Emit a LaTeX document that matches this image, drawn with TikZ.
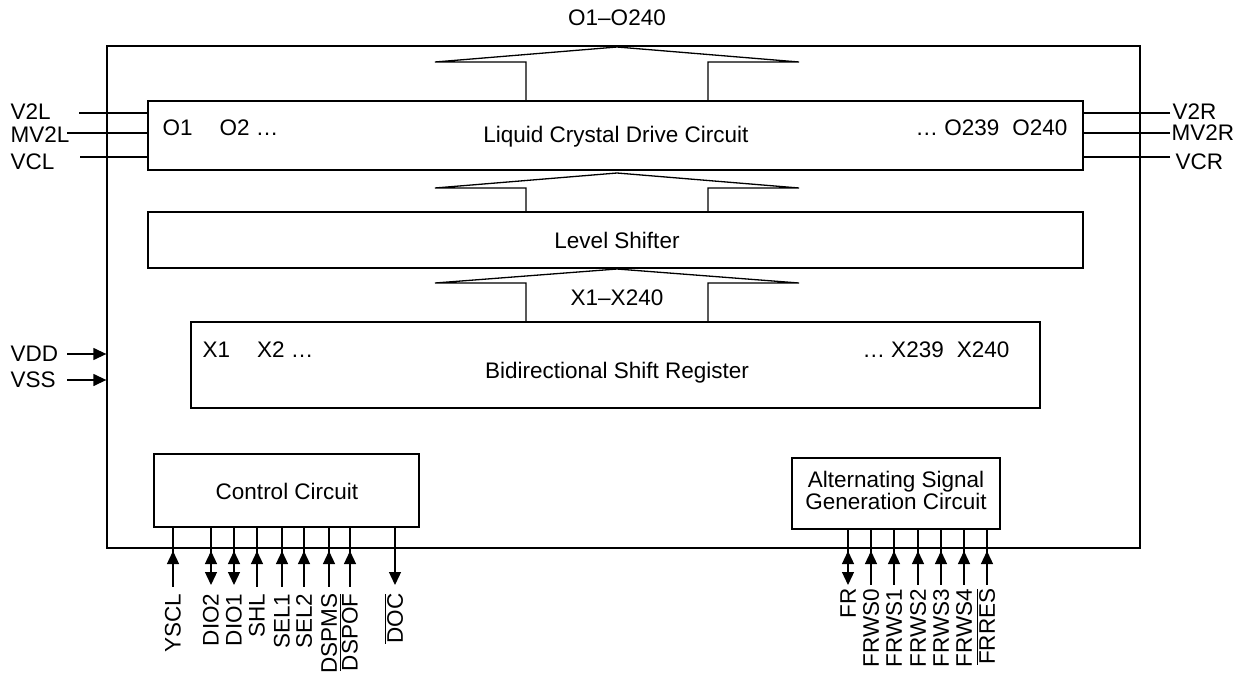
\documentclass[tikz,border=0pt]{standalone}
\usepackage{fontspec}
\setmainfont{Liberation Sans}
\usetikzlibrary{arrows.meta}
\newcommand\ovl[1]{\smash{$\overline{\hbox{#1}}$}\vphantom{#1}}
\begin{document}
\begin{tikzpicture}[x=1pt,y=-1pt,line width=1.3pt,
  font=\fontsize{22.5}{19}\selectfont,
  blk/.style={draw,rectangle,inner sep=0pt,line width=1.3pt},
  txt/.style={inner sep=0pt},
  pinlbl/.style={inner sep=0pt,rotate=90,anchor=east},
  tip/.style={-{Triangle[width=12pt,length=13pt]}}]
\useasboundingbox (0,0) rectangle (1247,677);

% blocks
\node[blk,minimum width=1033pt,minimum height=502pt] (chip) at (623.5,297) {};
\node[blk,minimum width=935pt,minimum height=69pt] (lc) at (615.5,135.5) {};
\node[blk,minimum width=935pt,minimum height=56pt] (ls) at (615.5,240) {};
\node[blk,minimum width=849pt,minimum height=86pt] (bsr) at (615.5,365) {};
\node[blk,minimum width=265pt,minimum height=73pt] (ctrl) at (286.5,490.5) {};
\node[blk,minimum width=208pt,minimum height=71pt] (alt) at (896,493.5) {};

% texts
\node[txt] (lct) at (616,137) {Liquid Crystal Drive Circuit};
\node[txt,anchor=west] (o12) at (162,128) {O1\hspace{27pt}O2 …};
\node[txt,anchor=east] (o240) at (1068,128) {… O239\hspace{13pt}O240};
\node[txt] (lst) at (617,240) {Level Shifter};
\node[txt] (bsrt) at (617,373) {Bidirectional Shift Register};
\node[txt,anchor=west] (x12) at (202,350) {X1\hspace{27pt}X2 …};
\node[txt,anchor=east] (x240) at (1010,350) {… X239\hspace{13pt}X240};
\node[txt] (ctrlt) at (287,491) {Control Circuit};
\node[txt,align=center] (altt) at (896,490) {Alternating Signal\\Generation Circuit};
\node[txt] (otop) at (617,18) {O1–O240};
\node[txt] (xlab) at (617,298) {X1–X240};

% block arrows
\draw (526,101) -- (526,62) -- (435,62) -- (617,47) -- (799,62) -- (708,62) -- (708,101);
\draw (526,212) -- (526,188) -- (435,188) -- (617,173) -- (799,188) -- (708,188) -- (708,212);
\draw (526,322) -- (526,283) -- (435,283) -- (617,269) -- (799,283) -- (708,283) -- (708,322);

% left supply lines
\node[txt,anchor=west] (v2l) at (10,112) {V2L};
\node[txt,anchor=west] (mv2l) at (10,134.5) {MV2L};
\node[txt,anchor=west] (vcl) at (10,162) {VCL};
\coordinate (v2la) at (79,113);
\coordinate (mv2la) at (67,133);
\coordinate (vcla) at (80,157);
\draw (v2la) -- (v2la -| lc.west);
\draw (mv2la) -- (mv2la -| lc.west);
\draw (vcla) -- (vcla -| lc.west);

% right supply lines
\node[txt,anchor=west] (v2r) at (1172,112) {V2R};
\node[txt,anchor=west] (mv2r) at (1171,133) {MV2R};
\node[txt,anchor=west] (vcr) at (1175,162) {VCR};
\coordinate (v2ra) at (1170,113);
\coordinate (mv2ra) at (1170,133);
\coordinate (vcra) at (1170,157);
\draw (v2ra) -- (v2ra -| lc.east);
\draw (mv2ra) -- (mv2ra -| lc.east);
\draw (vcra) -- (vcra -| lc.east);

% VDD VSS
\node[txt,anchor=west] (vdd) at (10,354) {VDD};
\node[txt,anchor=west] (vss) at (10,380) {VSS};
\coordinate (vdda) at (67,354);
\coordinate (vssa) at (67,380);
\draw[tip] (vdda) -- (vdda -| chip.west);
\draw[tip] (vssa) -- (vssa -| chip.west);

% control circuit pins
\foreach \x/\lab/\n in {173/YSCL/1,257/SHL/4,282/SEL1/5,304/SEL2/6,329/DSPMS/7,350/{\ovl{DSPOF}}/8}{
  \coordinate (cq\n) at (\x,593);
  \node[pinlbl] (cp\n) at (cq\n) {\lab};
  \draw (ctrl.south -| cq\n) -- ([yshift=6pt]cq\n);
  \draw[tip] ([yshift=28pt]cq\n) -- ([yshift=42pt]cq\n);
}
\foreach \x/\lab/\n in {211/DIO2/2,234/DIO1/3}{
  \coordinate (cq\n) at (\x,593);
  \node[pinlbl] (cp\n) at (cq\n) {\lab};
  \draw[tip] (ctrl.south -| cq\n) -- ([yshift=8pt]cq\n);
  \draw[tip] ([yshift=28pt]cq\n) -- ([yshift=42pt]cq\n);
}
\coordinate (cq9) at (395,593);
\node[pinlbl] (cp9) at (cq9) {\ovl{DOC}};
\draw[tip] (ctrl.south -| cq9) -- ([yshift=8pt]cq9);

% alternating signal pins
\foreach \x/\lab/\n in {871/FRWS0/2,894/FRWS1/3,918/FRWS2/4,941/FRWS3/5,964/FRWS4/6,987/{\ovl{FRRES}}/7}{
  \coordinate (aq\n) at (\x,588);
  \node[pinlbl] (ap\n) at (aq\n) {\lab};
  \draw (alt.south -| aq\n) -- ([yshift=3pt]aq\n);
  \draw[tip] ([yshift=23pt]aq\n) -- ([yshift=37pt]aq\n);
}
\coordinate (aq1) at (848,588);
\node[pinlbl] (ap1) at (aq1) {FR};
\draw[tip] (alt.south -| aq1) -- ([yshift=3pt]aq1);
\draw[tip] ([yshift=23pt]aq1) -- ([yshift=37pt]aq1);
\end{tikzpicture}
\end{document}
